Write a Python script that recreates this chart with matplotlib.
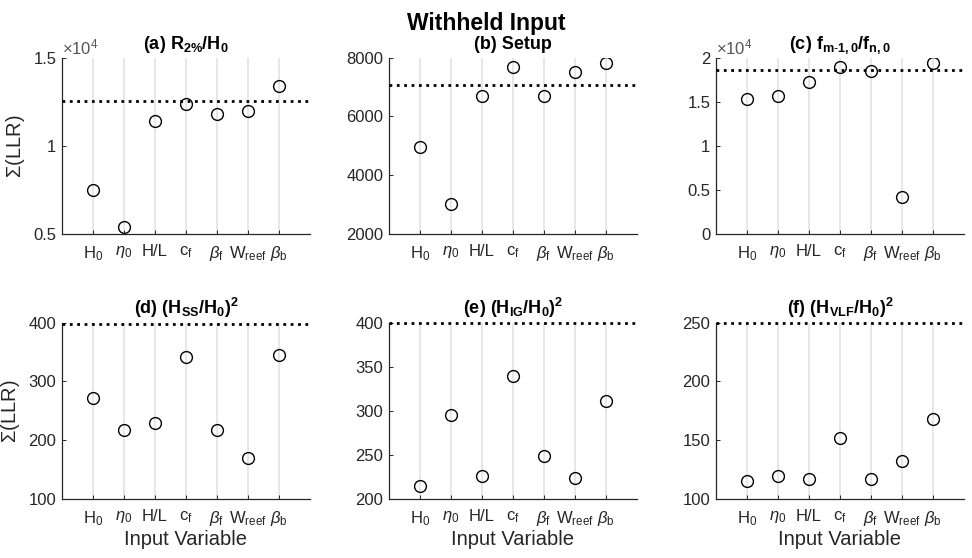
import matplotlib
matplotlib.use("Agg")
import matplotlib.pyplot as plt
from matplotlib.ticker import FuncFormatter

plt.rcParams['font.family'] = ['Liberation Sans', 'DejaVu Sans']
plt.rcParams['mathtext.fontset'] = 'custom'
plt.rcParams['mathtext.rm'] = 'Liberation Sans'
plt.rcParams['mathtext.it'] = 'Liberation Sans:italic'
plt.rcParams['mathtext.bf'] = 'Liberation Sans:bold'

# Input variables (x axis)
variables = ['H$_\\mathrm{0}$', r'$\eta_\mathrm{0}$', 'H/L', 'c$_\\mathrm{f}$',
             r'$\beta_\mathrm{f}$', 'W$_\\mathrm{reef}$', r'$\beta_\mathrm{b}$']

# Sum of LLR with each input withheld, and the all-inputs reference (dotted)
r2_vals = [7490, 5410, 11400, 12400, 11800, 12000, 13400]
r2_ref = 12570
setup_vals = [4960, 3030, 6700, 7680, 6690, 7510, 7830]
setup_ref = 7080
fratio_vals = [15300, 15600, 17200, 18900, 18500, 4200, 19400]
fratio_ref = 18620
hss_vals = [272, 217, 229, 342, 218, 170, 345]
hss_ref = 398
hig_vals = [215, 295, 226, 339, 249, 224, 311]
hig_ref = 400
hvlf_vals = [115, 120, 117, 152, 117, 132, 168]
hvlf_ref = 250

titles = [r'(a) $\mathbf{R_{2\%}/H_0}$',
          '(b) Setup',
          r'(c) $\mathbf{f_{m\text{-}1,0}/f_{n,0}}$',
          r'(d) $\mathbf{(H_{SS}/H_0)^2}$',
          r'(e) $\mathbf{(H_{IG}/H_0)^2}$',
          r'(f) $\mathbf{(H_{VLF}/H_0)^2}$']
series = [r2_vals, setup_vals, fratio_vals, hss_vals, hig_vals, hvlf_vals]
refs = [r2_ref, setup_ref, fratio_ref, hss_ref, hig_ref, hvlf_ref]
ylims = [(5000, 15000), (2000, 8000), (0, 20000), (100, 400), (200, 400), (100, 250)]
yticks = [[5000, 10000, 15000], [2000, 4000, 6000, 8000],
          [0, 5000, 10000, 15000, 20000], [100, 200, 300, 400],
          [200, 250, 300, 350, 400], [100, 150, 200, 250]]
scaled = [True, False, True, False, False, False]

fig = plt.figure(figsize=(9.72, 5.58), dpi=100)
lefts = [0.0638, 0.4002, 0.7366]
bottoms = [0.5806, 0.1057]
w, h = 0.2551, 0.316

axcol = '#262626'
x = list(range(1, 8))
for i in range(6):
    r, c = divmod(i, 3)
    ax = fig.add_axes([lefts[c], bottoms[r], w, h])
    for xi in x:
        ax.axvline(xi, color='#e3e3e3', lw=1.2, zorder=0)
    ax.axhline(refs[i], color='k', ls=':', lw=2, clip_on=False, zorder=3)
    ax.plot(x, series[i], 'o', mfc='none', mec='k', ms=8.5, mew=1, zorder=4)
    ax.set_xlim(0, 8)
    ax.set_ylim(*ylims[i])
    ax.set_xticks(x)
    ax.set_xticklabels(variables)
    ax.set_yticks(yticks[i])
    if scaled[i]:
        ax.yaxis.set_major_formatter(FuncFormatter(lambda v, p: '%g' % (v / 1e4)))
        ax.text(0.0, 1.0, r'$\times$10$^4$', transform=ax.transAxes, ha='left',
                va='bottom', fontsize=12, color='#555555')
    for s in ['top', 'right']:
        ax.spines[s].set_visible(False)
    for s in ['left', 'bottom']:
        ax.spines[s].set_color(axcol)
        ax.spines[s].set_linewidth(0.9)
    ax.tick_params(direction='in', length=3, width=0.7, colors=axcol,
                   labelsize=12, pad=4)
    ax.tick_params(axis='x', pad=7.5)
    ax.set_title(titles[i], fontsize=13, fontweight='bold', pad=6)
    if c == 0:
        ax.set_ylabel(r'$\Sigma$(LLR)', fontsize=14.5, color=axcol, labelpad=5)
    if r == 1:
        ax.set_xlabel('Input Variable', fontsize=14.5, color=axcol, labelpad=1)

fig.suptitle('Withheld Input', fontsize=16.5, fontweight='bold', y=0.978)
fig.savefig('out.png', dpi=100)
